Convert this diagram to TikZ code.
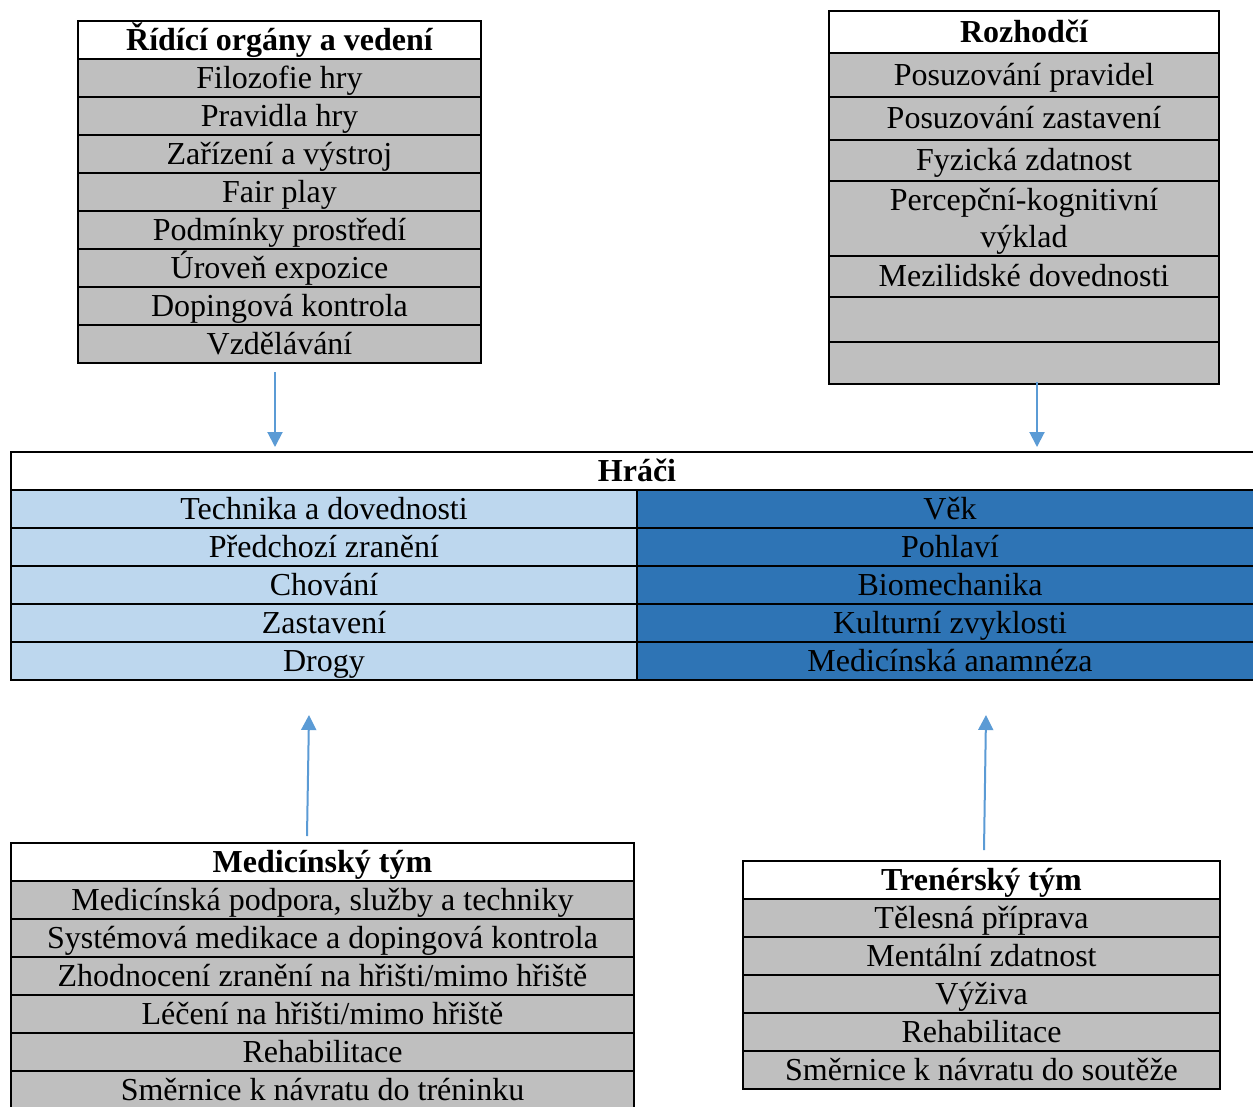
\documentclass[tikz,border=0pt]{standalone}
\usepackage{fontspec}
\setmainfont{Liberation Serif}
\usetikzlibrary{arrows.meta}
\definecolor{CellGray}{RGB}{191,191,191}
\definecolor{LightBlue}{RGB}{189,215,238}
\definecolor{DarkBlue}{RGB}{46,116,181}
\definecolor{Flow}{RGB}{91,155,213}

\tikzset{
    cell/.style={draw=black, line width=1.5pt, inner sep=0pt, minimum height=38pt,
        text height=26pt, text depth=6pt, font=\fontsize{32}{37}\selectfont},
    head/.style={cell, fill=white, font=\fontsize{32}{37}\selectfont\bfseries},
    item/.style={cell, fill=CellGray},
    flow/.style={line width=2pt, Flow, -{Triangle[width=15pt,length=15pt]}}
}

\begin{document}
\begin{tikzpicture}[x=1pt, y=-1pt]
    %% Background
    \path[use as bounding box, fill=white] (0,0) rectangle (1253,1106);

    %% Ridici organy
    \node[head, minimum width=403pt] (ridH) at (279.5,40) {Řídící orgány a vedení};
    \node[item, minimum width=403pt] (rid1) at (279.5,78) {Filozofie hry};
    \node[item, minimum width=403pt] (rid2) at (279.5,116) {Pravidla hry};
    \node[item, minimum width=403pt] (rid3) at (279.5,154) {Zařízení a výstroj};
    \node[item, minimum width=403pt] (rid4) at (279.5,192) {Fair play};
    \node[item, minimum width=403pt] (rid5) at (279.5,230) {Podmínky prostředí};
    \node[item, minimum width=403pt] (rid6) at (279.5,268) {Úroveň expozice};
    \node[item, minimum width=403pt] (rid7) at (279.5,306) {Dopingová kontrola};
    \node[item, minimum width=403pt] (rid8) at (279.5,344) {Vzdělávání};

    %% Rozhodci
    \node[head, minimum width=390pt, minimum height=42pt] (rozH) at (1024,32) {Rozhodčí};
    \node[item, minimum width=390pt, minimum height=44pt] (roz1) at (1024,75) {Posuzování pravidel};
    \node[item, minimum width=390pt, minimum height=43pt] (roz2) at (1024,118.5) {Posuzování zastavení};
    \node[item, minimum width=390pt, minimum height=41pt] (roz3) at (1024,160.5) {Fyzická zdatnost};
    \node[item, minimum width=390pt, minimum height=75pt, text height=63pt, text depth=6pt, align=center]
        (roz4) at (1024,218.5) {Percepční-kognitivní\\výklad};
    \node[item, minimum width=390pt, minimum height=41pt] (roz5) at (1024,276.5) {Mezilidské dovednosti};
    \node[item, minimum width=390pt, minimum height=45pt] (roz6) at (1024,319.5) {};
    \node[item, minimum width=390pt, minimum height=42pt] (roz7) at (1024,363) {};

    %% Hraci
    \node[head, minimum width=1252pt] (hraH) at (637,471) {Hráči};
    \node[cell, fill=LightBlue, minimum width=626pt] (hraL1) at (324,509) {Technika a dovednosti};
    \node[cell, fill=LightBlue, minimum width=626pt] (hraL2) at (324,547) {Předchozí zranění};
    \node[cell, fill=LightBlue, minimum width=626pt] (hraL3) at (324,585) {Chování};
    \node[cell, fill=LightBlue, minimum width=626pt] (hraL4) at (324,623) {Zastavení};
    \node[cell, fill=LightBlue, minimum width=626pt] (hraL5) at (324,661) {Drogy};
    \node[cell, fill=DarkBlue, minimum width=626pt] (hraR1) at (950,509) {Věk};
    \node[cell, fill=DarkBlue, minimum width=626pt] (hraR2) at (950,547) {Pohlaví};
    \node[cell, fill=DarkBlue, minimum width=626pt] (hraR3) at (950,585) {Biomechanika};
    \node[cell, fill=DarkBlue, minimum width=626pt] (hraR4) at (950,623) {Kulturní zvyklosti};
    \node[cell, fill=DarkBlue, minimum width=626pt] (hraR5) at (950,661) {Medicínská anamnéza};

    %% Medicinsky tym
    \node[head, minimum width=623pt] (medH) at (322.5,862) {Medicínský tým};
    \node[item, minimum width=623pt] (med1) at (322.5,900) {Medicínská podpora, služby a techniky};
    \node[item, minimum width=623pt] (med2) at (322.5,938) {Systémová medikace a dopingová kontrola};
    \node[item, minimum width=623pt] (med3) at (322.5,976) {Zhodnocení zranění na hřišti/mimo hřiště};
    \node[item, minimum width=623pt] (med4) at (322.5,1014) {Léčení na hřišti/mimo hřiště};
    \node[item, minimum width=623pt] (med5) at (322.5,1052) {Rehabilitace};
    \node[item, minimum width=623pt] (med6) at (322.5,1090) {Směrnice k návratu do tréninku};

    %% Trenersky tym
    \node[head, minimum width=477pt] (treH) at (981.5,880) {Trenérský tým};
    \node[item, minimum width=477pt] (tre1) at (981.5,918) {Tělesná příprava};
    \node[item, minimum width=477pt] (tre2) at (981.5,956) {Mentální zdatnost};
    \node[item, minimum width=477pt] (tre3) at (981.5,994) {Výživa};
    \node[item, minimum width=477pt] (tre4) at (981.5,1032) {Rehabilitace};
    \node[item, minimum width=477pt] (tre5) at (981.5,1070) {Směrnice k návratu do soutěže};

    %% Arrows
    \coordinate (ridOut) at (275,372);
    \coordinate (ridIn) at (275,447);
    \coordinate (rozOut) at (1037,382);
    \coordinate (rozIn) at (1037,447);
    \coordinate (medOut) at (307,836);
    \coordinate (medIn) at (309,715);
    \coordinate (treOut) at (984,850);
    \coordinate (treIn) at (986,715);

    \draw[flow] (ridOut) to (ridIn);
    \draw[flow] (rozOut) to (rozIn);
    \draw[flow] (medOut) to (medIn);
    \draw[flow] (treOut) to (treIn);

\end{tikzpicture}
\end{document}
